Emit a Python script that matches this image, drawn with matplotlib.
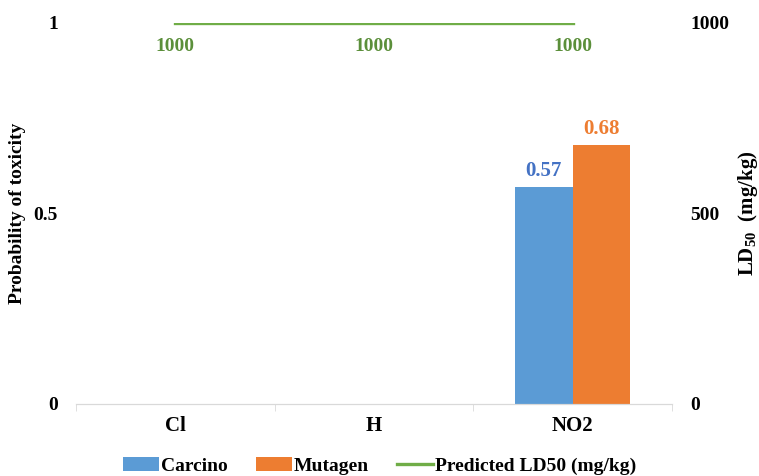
import numpy as np
import matplotlib.pyplot as plt

plt.rcParams['font.family'] = ['Liberation Serif', 'DejaVu Serif']
plt.rcParams['font.weight'] = 'bold'
plt.rcParams['mathtext.fontset'] = 'custom'
plt.rcParams['mathtext.rm'] = 'Liberation Serif:bold'
plt.rcParams['mathtext.bf'] = 'Liberation Serif:bold'

categories = ['Cl', 'H', 'NO2']
carcino = [0, 0, 0.57]
mutagen = [0, 0, 0.68]
ld50 = [1000, 1000, 1000]

blue = '#5B9BD5'
orange = '#ED7D31'
green = '#70AD47'

fig = plt.figure(figsize=(7.59, 4.76), dpi=100)
ax = fig.add_axes([0.1001, 0.1513, 0.7853, 0.8004])
ax2 = ax.twinx()

x = np.arange(len(categories))
w = 0.29

b1 = ax.bar(x - w / 2, carcino, w, color=blue, label='Carcino', zorder=2)
b2 = ax.bar(x + w / 2, mutagen, w, color=orange, label='Mutagen', zorder=2)

for xi, v in zip(x, carcino):
    if v > 0:
        ax.text(xi - w / 2, v + 0.015, f'{v:.2f}', ha='center', va='bottom',
                color='#4472C4', fontsize=15, fontweight='bold')
for xi, v in zip(x, mutagen):
    if v > 0:
        ax.text(xi + w / 2, v + 0.015, f'{v:.2f}', ha='center', va='bottom',
                color=orange, fontsize=15, fontweight='bold')

ln, = ax2.plot(x, ld50, color=green, lw=2.4, label='Predicted LD50 (mg/kg)')
for xi, v in zip(x, ld50):
    ax2.text(xi, v - 40, f'{v}', ha='center', va='top', color='#5B8F3A',
             fontsize=14, fontweight='bold')

ax.set_xlim(-0.5, 2.5)
ax.set_ylim(0, 1)
ax2.set_ylim(0, 1000)
ax.set_yticks([0, 0.5, 1])
ax.set_yticklabels(['0', '0.5', '1'])
ax2.set_yticks([0, 500, 1000])

ax.set_xticks(x)
ax.set_xticklabels(categories)
ax.set_xticks([-0.5, 0.5, 1.5, 2.5], minor=True)
ax.tick_params(axis='x', which='major', length=0, pad=9, labelsize=15)
ax.tick_params(axis='x', which='minor', length=5, color='#D9D9D9')
ax.tick_params(axis='y', length=0, pad=13, labelsize=14)
ax2.tick_params(axis='y', length=0, pad=13, labelsize=14)

for a in (ax, ax2):
    for s in ('top', 'left', 'right'):
        a.spines[s].set_visible(False)
    a.spines['bottom'].set_color('#D9D9D9')

ax.set_ylabel('Probability of toxicity', fontsize=14, fontweight='bold')
ax.yaxis.set_label_coords(-0.084, 0.5)
ax2.set_ylabel('LD$_{\\mathbf{50}}$  (mg/kg)', fontsize=15, fontweight='bold',
               rotation=90)
ax2.yaxis.set_label_coords(1.107, 0.5)

fig.legend(handles=[b1, b2, ln], loc='lower center', ncol=3, frameon=False,
           bbox_to_anchor=(0.5, -0.035), fontsize=14, handlelength=1.85,
           handletextpad=0.1, columnspacing=1.45)

fig.savefig('out.png', dpi=100)
